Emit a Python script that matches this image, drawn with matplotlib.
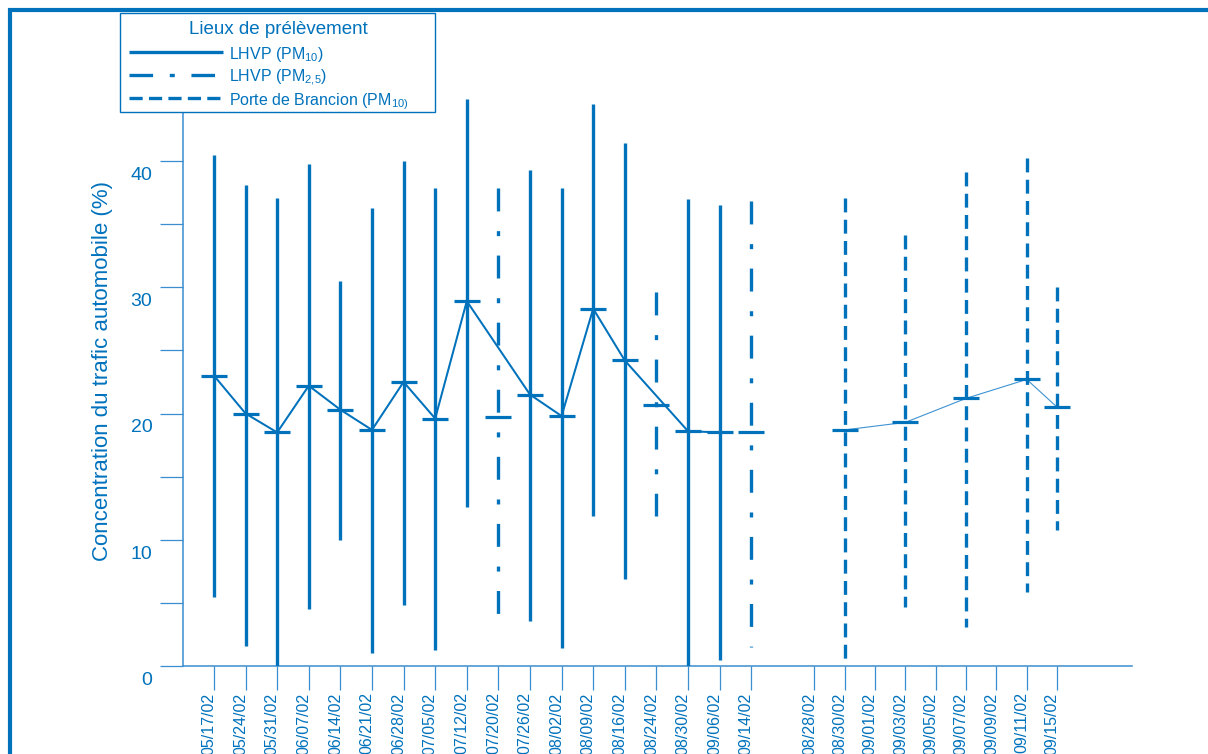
import matplotlib
matplotlib.use('Agg')

import matplotlib.pyplot as plt
import matplotlib.transforms as mtransforms
from matplotlib.lines import Line2D
from matplotlib.patches import Rectangle

# ---------------------------
# DONNÉES
# ---------------------------
dates_lhvp = ["05/17/02", "05/24/02", "05/31/02", "06/07/02", "06/14/02", "06/21/02",
              "06/28/02", "07/05/02", "07/12/02", "07/20/02", "07/26/02", "08/02/02",
              "08/09/02", "08/16/02", "08/24/02", "08/30/02", "09/06/02", "09/14/02"]
dates_brancion = ["08/28/02", "08/30/02", "09/01/02", "09/03/02", "09/05/02",
                  "09/07/02", "09/09/02", "09/11/02", "09/15/02"]

# LHVP (PM10)
pm10_dates = ["05/17/02", "05/24/02", "05/31/02", "06/07/02", "06/14/02", "06/21/02",
              "06/28/02", "07/05/02", "07/12/02", "07/26/02", "08/02/02", "08/09/02",
              "08/16/02", "08/30/02", "09/06/02"]
pm10_mean = [23.0, 20.0, 18.5, 22.2, 20.3, 18.7, 22.5, 19.6, 28.9, 21.5, 19.8, 28.3, 24.2, 18.6, 18.5]
pm10_max = [40.5, 38.1, 37.1, 39.8, 30.5, 36.3, 40.0, 37.9, 44.9, 39.3, 37.9, 44.5, 41.4, 37.0, 36.5]
pm10_min = [5.5, 1.6, 0.0, 4.5, 10.0, 1.0, 4.8, 1.3, 12.6, 3.6, 1.4, 11.9, 6.9, 0.0, 0.5]

# LHVP (PM2,5)
pm25_dates = ["07/20/02", "08/24/02", "09/14/02"]
pm25_mean = [19.7, 20.7, 18.5]
pm25_max = [37.9, 29.6, 36.8]
pm25_min = [2.6, 11.9, 1.5]

# Porte de Brancion (PM10)
br_dates = ["08/30/02", "09/03/02", "09/07/02", "09/11/02", "09/15/02"]
br_mean = [18.7, 19.3, 21.2, 22.7, 20.5]
br_max = [37.1, 34.1, 39.1, 40.2, 30.0]
br_min = [0.0, 4.7, 3.1, 5.9, 10.8]

legend_title = "Lieux de prélèvement"
legend_labels = [r"LHVP (PM$_{10}$)", r"LHVP (PM$_{2{,}5}$)", r"Porte de Brancion (PM$_{10)}$"]

# ---------------------------
# STYLE
# ---------------------------
BLUE = '#0072bc'
AXIS = '#3a8dcf'
LIGHT = '#3f93d2'

plt.rcParams['font.family'] = ['Liberation Sans', 'DejaVu Sans']
plt.rcParams['mathtext.fontset'] = 'custom'
plt.rcParams['mathtext.rm'] = 'Liberation Sans'
plt.rcParams['mathtext.it'] = 'Liberation Sans'
plt.rcParams['mathtext.bf'] = 'Liberation Sans'
plt.rcParams['lines.scale_dashes'] = False

SOLID = '-'
DASHDOT = (0, (16.5, 14.2, 3.6, 14.0))
DASHED = (0, (10.0, 5.3))

# positions sur l'axe : deux groupes séparés par un intervalle vide
x_lhvp = {d: i for i, d in enumerate(dates_lhvp)}
x_br = {d: len(dates_lhvp) + 1 + 0.96 * i for i, d in enumerate(dates_brancion)}
tick_pos = list(x_lhvp.values()) + list(x_br.values())
tick_lab = dates_lhvp + dates_brancion

W, H = 1208, 754
fig = plt.figure(figsize=(W / 100, H / 100), dpi=100)
ax = fig.add_axes([183 / W, 88 / H, (1132 - 183) / W, 606 / H])
ax.set_xlim(-0.98, 29.05)
ax.set_ylim(0, 48)


def draw_series(xs, mins, maxs, means, ls, lw_line, line_col, connect=True):
    for x, lo, hi, m in zip(xs, mins, maxs, means):
        ax.plot([x, x], [hi, lo], color=BLUE, lw=2.4, ls=ls,
                solid_capstyle='butt', dash_capstyle='butt', zorder=3)
        ax.plot([x - 0.41, x + 0.41], [m, m], color=BLUE, lw=2.3,
                solid_capstyle='butt', zorder=4)
    if connect:
        ax.plot(xs, means, color=line_col, lw=lw_line, zorder=2)


draw_series([x_lhvp[d] for d in pm10_dates], pm10_min, pm10_max, pm10_mean, SOLID, 1.45, BLUE)
draw_series([x_lhvp[d] for d in pm25_dates], pm25_min, pm25_max, pm25_mean, DASHDOT, 0, BLUE,
            connect=False)
draw_series([x_br[d] for d in br_dates], br_min, br_max, br_mean, DASHED, 0.8, LIGHT)

# ---------------------------
# AXES
# ---------------------------
for s in ['top', 'right']:
    ax.spines[s].set_visible(False)
for s in ['left', 'bottom']:
    ax.spines[s].set_color(AXIS)
    ax.spines[s].set_linewidth(1.1)

ax.set_yticks([0, 10, 20, 30, 40])
ax.set_yticks([5, 15, 25, 35, 45], minor=True)
ax.tick_params(axis='y', which='both', direction='out', length=16.5, width=0.9,
               color=AXIS, labelcolor=BLUE, labelsize=14, pad=5.5)

ax.set_xticks(tick_pos, labels=tick_lab, rotation=90)
ax.tick_params(axis='x', direction='out', length=17, width=0.9, color=AXIS,
               labelcolor=BLUE, labelsize=11.5, pad=2)

# libellés décalés vers le bas / la gauche
for lab in ax.get_yticklabels():
    lab.set_transform(lab.get_transform() + mtransforms.ScaledTranslation(0, -0.125, fig.dpi_scale_trans))
for lab in ax.get_xticklabels():
    lab.set_transform(lab.get_transform() + mtransforms.ScaledTranslation(-0.05, 0, fig.dpi_scale_trans))

fig.text(103 / W, 1 - 371 / H, "Concentration du trafic automobile (%)", rotation=90,
         ha='center', va='center', color=BLUE, fontsize=16)

# ---------------------------
# LÉGENDE (cadre dessiné à la main, en pixels de la figure)
# ---------------------------
def fx(px):
    return px / W


def fy(py):
    return 1 - py / H


fig.add_artist(Rectangle((fx(120), fy(112)), fx(435) - fx(120), fy(13) - fy(112),
                         transform=fig.transFigure, facecolor='white', edgecolor=BLUE,
                         lw=1.0, zorder=10))
fig.text(fx(278), fy(30), legend_title, ha='center', va='center', color=BLUE,
         fontsize=13.5, zorder=11)
for k, (lab, ls) in enumerate(zip(legend_labels, [SOLID, (0, (17, 12, 3.6, 12)), (0, (9.5, 4.5))])):
    yy = fy(52 + 23 * k)
    fig.add_artist(Line2D([fx(129), fx(223)], [yy, yy], transform=fig.transFigure,
                          color=BLUE, lw=2.4, ls=ls, solid_capstyle='butt',
                          dash_capstyle='butt', zorder=11))
    fig.text(fx(229), yy, lab, ha='left', va='center_baseline', color=BLUE,
             fontsize=11.5, zorder=11)

# cadre de la page
fig.add_artist(Line2D([10 / W, 10 / W, 1.0], [0, 1 - 10 / H, 1 - 10 / H],
                      transform=fig.transFigure, color=BLUE, lw=3, solid_joinstyle='miter'))

fig.savefig('out.png', dpi=100)
